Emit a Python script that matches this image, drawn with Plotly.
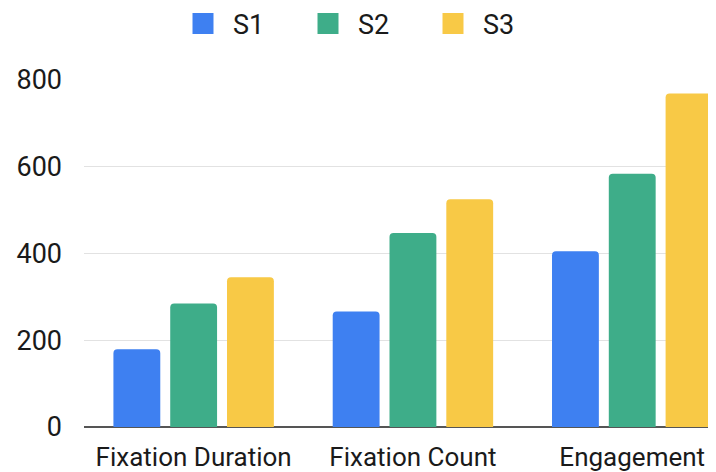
import plotly.graph_objects as go

categories = ["Fixation Duration", "Fixation Count", "Engagement"]
series_names = ["S1", "S2", "S3"]
s1_values = [179, 266, 405]
s2_values = [285, 447, 584]
s3_values = [345, 525, 769]
y_ticks = [0, 200, 400, 600, 800]
colors = ["#3E80F1", "#3EAD89", "#F8C946"]

fig = go.Figure()
for name, vals, col in zip(series_names, [s1_values, s2_values, s3_values], colors):
    fig.add_trace(go.Bar(x=categories, y=vals, name=name, marker_color=col,
                         marker_line_width=0, showlegend=False, legendgroup=name))
# legend entries with larger square swatches
for name, col in zip(series_names, colors):
    fig.add_trace(go.Scatter(x=[None], y=[None], mode="markers", name=name,
                             legendgroup=name,
                             marker=dict(symbol="square", size=16, color=col,
                                         line=dict(color=col, width=5))))

fig.update_layout(
    width=716, height=472,
    margin=dict(l=74, r=8, t=72, b=53),
    paper_bgcolor="white", plot_bgcolor="white",
    barmode="group", bargap=0.223, bargroupgap=0.175,
    barcornerradius=4,
    font=dict(family="Roboto", size=26, color="#1a1a1a"),
    showlegend=True,
    legend=dict(orientation="h", xref="container", x=165 / 716, xanchor="left",
                yref="container", y=1 - 16 / 472, yanchor="middle",
                font=dict(size=27), entrywidth=60, itemwidth=50,
                bgcolor="rgba(0,0,0,0)"),
    xaxis=dict(range=[-0.5, 2.382], showgrid=False, showline=False,
               tickfont=dict(size=26), ticks="", ticklabelstandoff=12),
    yaxis=dict(range=[0, 800], tickvals=y_ticks, showgrid=True, gridcolor="#e2e2e2",
               gridwidth=1, zeroline=True, zerolinecolor="#555555", zerolinewidth=2,
               tickfont=dict(size=27), ticks="", ticklabelstandoff=21,
               showline=False),
)
fig.write_html("out.html")
